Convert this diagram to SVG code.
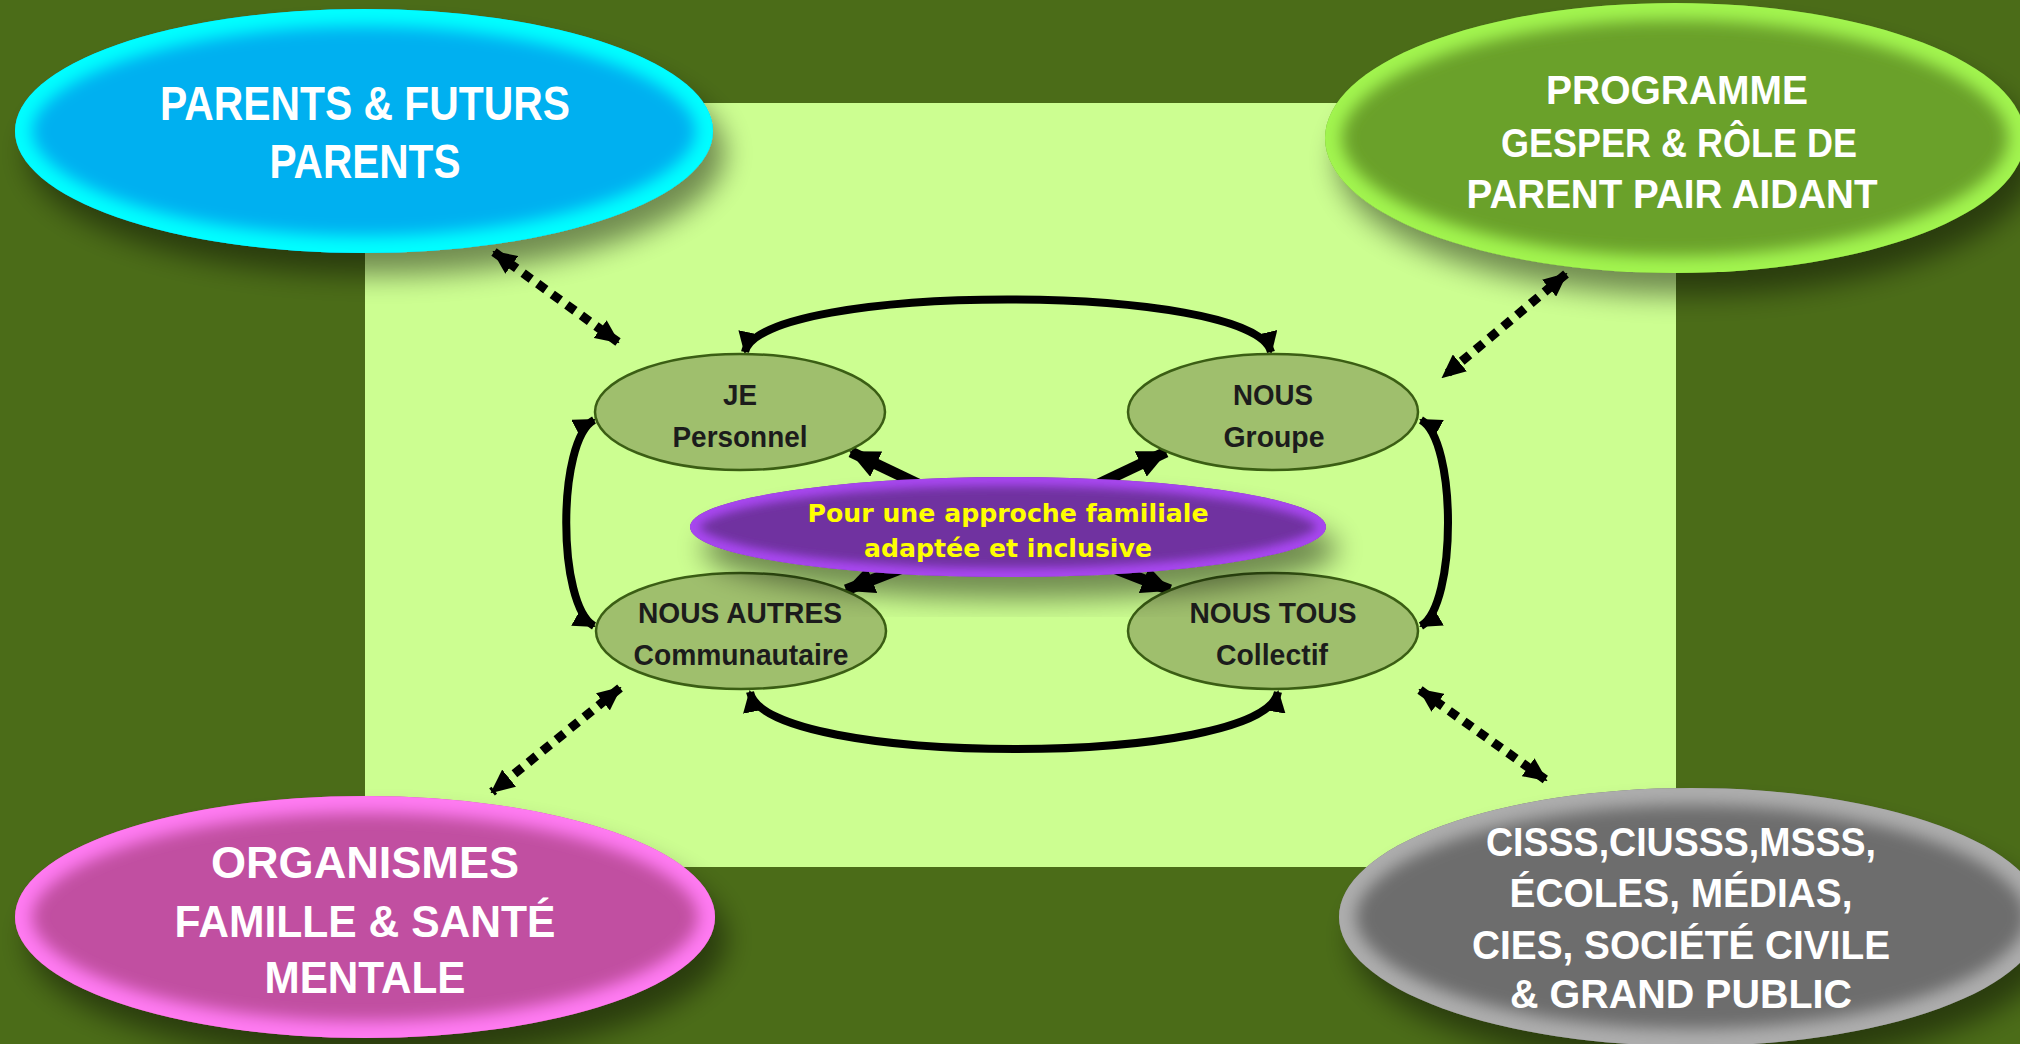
<svg xmlns="http://www.w3.org/2000/svg" width="2020" height="1044" viewBox="0 0 2020 1044">
<style>
.big{font-family:"Liberation Sans",Arial,sans-serif;font-weight:bold;fill:#ffffff;text-anchor:middle}
.small{font-family:"Liberation Sans",Arial,sans-serif;font-weight:bold;font-size:29px;fill:#1c1c1c;text-anchor:middle}
.mid{font-family:"DejaVu Sans","Liberation Sans",sans-serif;font-weight:bold;font-size:25px;fill:#ffff00;text-anchor:middle}
.sub{fill:#9fbf6d;stroke:#3b5e14;stroke-width:2.5}
.arc{fill:none;stroke:#000;stroke-width:8;marker-start:url(#ah);marker-end:url(#ah)}
.spoke{fill:none;stroke:#000;stroke-width:11;marker-end:url(#ahBig)}
.dots{fill:none;stroke:#000;stroke-width:9;stroke-dasharray:10 8;marker-start:url(#ahDot);marker-end:url(#ahDot)}
.glow{fill:none;stroke-width:34;filter:url(#blur)}
</style>
<defs>
<marker id="ah" viewBox="0 0 22 22" refX="20" refY="11" markerWidth="22" markerHeight="22" markerUnits="userSpaceOnUse" orient="auto-start-reverse"><path d="M0,0 L22,11 L0,22 Z" fill="#000"/></marker>
<marker id="ahBig" viewBox="0 0 30 28" refX="28" refY="14" markerWidth="30" markerHeight="28" markerUnits="userSpaceOnUse" orient="auto"><path d="M0,0 L30,14 L0,28 Z" fill="#000"/></marker>
<marker id="ahDot" viewBox="0 0 24 22" refX="22" refY="11" markerWidth="24" markerHeight="22" markerUnits="userSpaceOnUse" orient="auto-start-reverse"><path d="M0,0 L24,11 L0,22 Z" fill="#000"/></marker>
<filter id="shadow" x="-20%" y="-30%" width="150%" height="170%">
<feGaussianBlur in="SourceAlpha" stdDeviation="14"/>
<feOffset dx="12" dy="22" result="o"/>
<feComponentTransfer><feFuncA type="linear" slope="0.45"/></feComponentTransfer>
<feMerge><feMergeNode/><feMergeNode in="SourceGraphic"/></feMerge>
</filter>
<filter id="blur" x="-10%" y="-20%" width="120%" height="140%"><feGaussianBlur stdDeviation="8"/></filter>
<filter id="blurS" x="-10%" y="-30%" width="120%" height="160%"><feGaussianBlur stdDeviation="5"/></filter>
<clipPath id="cCyan"><ellipse cx="364" cy="131" rx="349" ry="122"/></clipPath>
<clipPath id="cGreen"><ellipse cx="1675" cy="138" rx="350" ry="135"/></clipPath>
<clipPath id="cPink"><ellipse cx="365" cy="917" rx="350" ry="121"/></clipPath>
<clipPath id="cGray"><ellipse cx="1691" cy="917" rx="352" ry="129"/></clipPath>
<clipPath id="cPurple"><ellipse cx="1008" cy="527" rx="318" ry="50"/></clipPath>
</defs>

<rect x="0" y="0" width="2020" height="1044" fill="#4b6c18"/>
<rect id="panel" x="365" y="103" width="1311" height="764" fill="#ccfe91"/>

<g id="connectors">
<path class="dots" d="M494,252 L618,342"/>
<path class="dots" d="M1566,274 L1443,377"/>
<path class="dots" d="M620,688 L492,792"/>
<path class="dots" d="M1420,690 L1546,780"/>
<path class="arc" d="M745,352 C760,282 1255,282 1271,352"/>
<path class="arc" d="M594,420 C557,440 557,605 594,626"/>
<path class="arc" d="M1421,420 C1457,440 1457,605 1421,626"/>
<path class="arc" d="M750,692 C765,768 1265,768 1278,692"/>
<path class="spoke" d="M1008,527 L851,452"/>
<path class="spoke" d="M1008,527 L1166,452"/>
<path class="spoke" d="M1008,527 L846,590"/>
<path class="spoke" d="M1008,527 L1170,590"/>
</g>

<g id="je">
<ellipse class="sub" cx="740" cy="412" rx="145" ry="58"/>
<text class="small" x="740" y="405" textLength="34" lengthAdjust="spacingAndGlyphs">JE</text>
<text class="small" x="740" y="447" textLength="135" lengthAdjust="spacingAndGlyphs">Personnel</text>
</g>
<g id="nous">
<ellipse class="sub" cx="1273" cy="412" rx="145" ry="58"/>
<text class="small" x="1273" y="405" textLength="80" lengthAdjust="spacingAndGlyphs">NOUS</text>
<text class="small" x="1274" y="447" textLength="101" lengthAdjust="spacingAndGlyphs">Groupe</text>
</g>
<g id="nous-autres">
<ellipse class="sub" cx="741" cy="631" rx="145" ry="58"/>
<text class="small" x="740" y="623" textLength="204" lengthAdjust="spacingAndGlyphs">NOUS AUTRES</text>
<text class="small" x="741" y="665" textLength="215" lengthAdjust="spacingAndGlyphs">Communautaire</text>
</g>
<g id="nous-tous">
<ellipse class="sub" cx="1273" cy="631" rx="145" ry="58"/>
<text class="small" x="1273" y="623" textLength="167" lengthAdjust="spacingAndGlyphs">NOUS TOUS</text>
<text class="small" x="1272" y="665" textLength="112" lengthAdjust="spacingAndGlyphs">Collectif</text>
</g>

<g id="approche">
<ellipse cx="1008" cy="527" rx="318" ry="50" fill="#7030a0" filter="url(#shadow)"/>
<g clip-path="url(#cPurple)"><ellipse cx="1008" cy="527" rx="318" ry="50" fill="none" stroke="#a846f0" stroke-width="18" filter="url(#blurS)"/></g>
<text class="mid" x="1008" y="522" textLength="401" lengthAdjust="spacingAndGlyphs">Pour une approche familiale</text>
<text class="mid" x="1008" y="557" textLength="288" lengthAdjust="spacingAndGlyphs">adaptée et inclusive</text>
</g>

<g id="parents">
<ellipse cx="364" cy="131" rx="349" ry="122" fill="#00b0f0" filter="url(#shadow)"/>
<g clip-path="url(#cCyan)"><ellipse class="glow" cx="364" cy="131" rx="349" ry="122" stroke="#00ffff"/></g>
<text class="big" font-size="48" x="365" y="120" textLength="410" lengthAdjust="spacingAndGlyphs">PARENTS &amp; FUTURS</text>
<text class="big" font-size="48" x="365" y="178" textLength="191" lengthAdjust="spacingAndGlyphs">PARENTS</text>
</g>

<g id="programme">
<ellipse cx="1675" cy="138" rx="350" ry="135" fill="#6aa12c" filter="url(#shadow)"/>
<g clip-path="url(#cGreen)"><ellipse class="glow" cx="1675" cy="138" rx="350" ry="135" stroke="#a2f550"/></g>
<text class="big" font-size="40" x="1677" y="104" textLength="262" lengthAdjust="spacingAndGlyphs">PROGRAMME</text>
<text class="big" font-size="40" x="1679" y="157" textLength="356" lengthAdjust="spacingAndGlyphs">GESPER &amp; RÔLE DE</text>
<text class="big" font-size="40" x="1672" y="208" textLength="411" lengthAdjust="spacingAndGlyphs">PARENT PAIR AIDANT</text>
</g>

<g id="organismes">
<ellipse cx="365" cy="917" rx="350" ry="121" fill="#c14fa1" filter="url(#shadow)"/>
<g clip-path="url(#cPink)"><ellipse class="glow" cx="365" cy="917" rx="350" ry="121" stroke="#ff7af2"/></g>
<text class="big" font-size="45" x="365" y="878" textLength="308" lengthAdjust="spacingAndGlyphs">ORGANISMES</text>
<text class="big" font-size="45" x="365" y="937" textLength="381" lengthAdjust="spacingAndGlyphs">FAMILLE &amp; SANTÉ</text>
<text class="big" font-size="45" x="365" y="993" textLength="201" lengthAdjust="spacingAndGlyphs">MENTALE</text>
</g>

<g id="partenaires">
<ellipse cx="1691" cy="917" rx="352" ry="129" fill="#6d6d6d" filter="url(#shadow)"/>
<g clip-path="url(#cGray)"><ellipse class="glow" cx="1691" cy="917" rx="352" ry="129" stroke="#adadad"/></g>
<text class="big" font-size="40" x="1681" y="856" textLength="390" lengthAdjust="spacingAndGlyphs">CISSS,CIUSSS,MSSS,</text>
<text class="big" font-size="40" x="1681" y="907" textLength="343" lengthAdjust="spacingAndGlyphs">ÉCOLES, MÉDIAS,</text>
<text class="big" font-size="40" x="1681" y="959" textLength="418" lengthAdjust="spacingAndGlyphs">CIES, SOCIÉTÉ CIVILE</text>
<text class="big" font-size="40" x="1681" y="1008" textLength="342" lengthAdjust="spacingAndGlyphs">&amp; GRAND PUBLIC</text>
</g>
</svg>
